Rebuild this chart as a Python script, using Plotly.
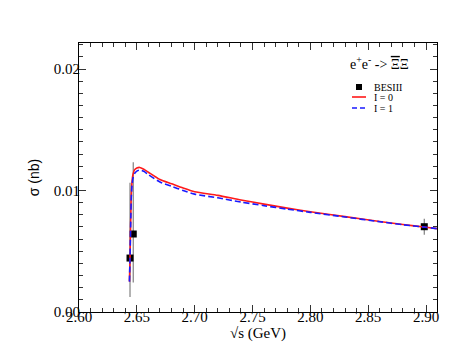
import plotly.graph_objects as go

# BESIII data points
bes_x = [2.6441, 2.6469, 2.8985]
bes_y = [0.00444, 0.00642, 0.00702]
bes_err_plus = [0.0062, 0.0059, 0.00066]
bes_err_minus = [0.0032, 0.0040, 0.00066]

# Model curves
curve_x = [2.6436, 2.6440, 2.6444, 2.6448, 2.6452, 2.6458, 2.6466, 2.6480, 2.6500, 2.6525,
           2.6560, 2.6600, 2.6700, 2.6800, 2.6900, 2.7000, 2.7200, 2.7400, 2.7600, 2.7800,
           2.8000, 2.8300, 2.8600, 2.8800, 2.9000, 2.9100]
i0_y = [0.0025, 0.0040, 0.0060, 0.0080, 0.0097, 0.0107, 0.0113, 0.0117, 0.01185, 0.0119,
        0.01175, 0.0115, 0.0109, 0.01055, 0.0102, 0.0099, 0.0096, 0.00922, 0.00888, 0.00855,
        0.00825, 0.00785, 0.00745, 0.00720, 0.00698, 0.00686]
i1_y = [0.0025, 0.0040, 0.0059, 0.0078, 0.0094, 0.0104, 0.0110, 0.0114, 0.01160, 0.01168,
        0.01158, 0.0113, 0.0107, 0.01035, 0.0100, 0.0097, 0.0094, 0.00905, 0.00875, 0.00847,
        0.00820, 0.00782, 0.00743, 0.00718, 0.00697, 0.00685]

x_ticks = [2.60, 2.65, 2.70, 2.75, 2.80, 2.85, 2.90]
y_ticks = [0.00, 0.01, 0.02]

legend_names = ["BESIII", "I = 0", "I = 1"]
red = "#ff1a1a"
blue = "#1a1aff"

serif = "Liberation Serif, Times New Roman, serif"

fig = go.Figure()
fig.add_trace(go.Scatter(
    x=bes_x, y=bes_y, mode="markers", name=legend_names[0],
    marker=dict(symbol="square", size=7, color="black"),
    error_y=dict(type="data", symmetric=False, array=bes_err_plus, arrayminus=bes_err_minus,
                 color="#808080", thickness=1.2, width=0),
    showlegend=False,
))
fig.add_trace(go.Scatter(
    x=curve_x, y=i0_y, mode="lines", name=legend_names[1],
    line=dict(color=red, width=1.6, shape="spline", smoothing=0.6),
    showlegend=False,
))
fig.add_trace(go.Scatter(
    x=curve_x, y=i1_y, mode="lines", name=legend_names[2],
    line=dict(color=blue, width=1.6, dash="6px,3px", shape="spline", smoothing=0.6),
    showlegend=False,
))

axis_common = dict(
    showline=True, linecolor="black", linewidth=1, mirror="ticks",
    ticks="inside", ticklen=7, tickcolor="#333", tickwidth=1,
    showgrid=False, zeroline=False,
    tickfont=dict(family=serif, size=15, color="black"),
)
fig.update_xaxes(
    range=[2.6, 2.9095], tickvals=x_ticks, ticktext=[f"{v:.2f}" for v in x_ticks],
    minor=dict(dtick=0.01, ticks="inside", ticklen=4, tickcolor="#333", showgrid=False),
    title=dict(text="√s (GeV)", font=dict(family=serif, size=15, color="black"), standoff=2),
    ticklabelstandoff=-9,
    **axis_common,
)
fig.update_yaxes(
    range=[0, 0.02214], tickvals=y_ticks, ticktext=[f"{v:.2f}" for v in y_ticks],
    minor=dict(dtick=0.001, ticks="inside", ticklen=4, tickcolor="#333", showgrid=False),
    title=dict(text="σ (nb)", font=dict(family="Liberation Sans, Arial, sans-serif", size=14, color="black"), standoff=10),
    ticklabelstandoff=-5,
    **axis_common,
)

# reaction label
fig.add_annotation(
    x=0.7514, y=0.9257, xref="paper", yref="paper", xanchor="left", yanchor="middle",
    showarrow=False,
    text="e<sup>+</sup>e<sup>-</sup> -> <span style='text-decoration:overline'>Ξ</span>Ξ",
    font=dict(family=serif, size=14, color="black"),
)

# compact legend (paper coordinates)
def px_x(p):
    return (p - 71) / 358

def px_y(p):
    return (304 - p) / 269

fig.add_shape(type="rect", xref="paper", yref="paper",
              x0=px_x(348), x1=px_x(354), y0=px_y(82), y1=px_y(76),
              fillcolor="black", line=dict(width=0))
fig.add_shape(type="line", xref="paper", yref="paper",
              x0=px_x(344), x1=px_x(358), y0=px_y(89), y1=px_y(89),
              line=dict(color=red, width=1.6))
fig.add_shape(type="line", xref="paper", yref="paper",
              x0=px_x(344), x1=px_x(358), y0=px_y(100), y1=px_y(100),
              line=dict(color=blue, width=1.6, dash="5px,3px"))
for name, py in zip(legend_names, [79, 89, 100]):
    fig.add_annotation(x=px_x(364), y=px_y(py), xref="paper", yref="paper",
                       xanchor="left", yanchor="middle", showarrow=False, text=name,
                       font=dict(family=serif, size=10, color="black"))

fig.update_layout(
    width=463, height=358,
    margin=dict(l=71, r=34, t=35, b=54),
    paper_bgcolor="white", plot_bgcolor="white",
    showlegend=False,
)

fig.write_html("out.html")
